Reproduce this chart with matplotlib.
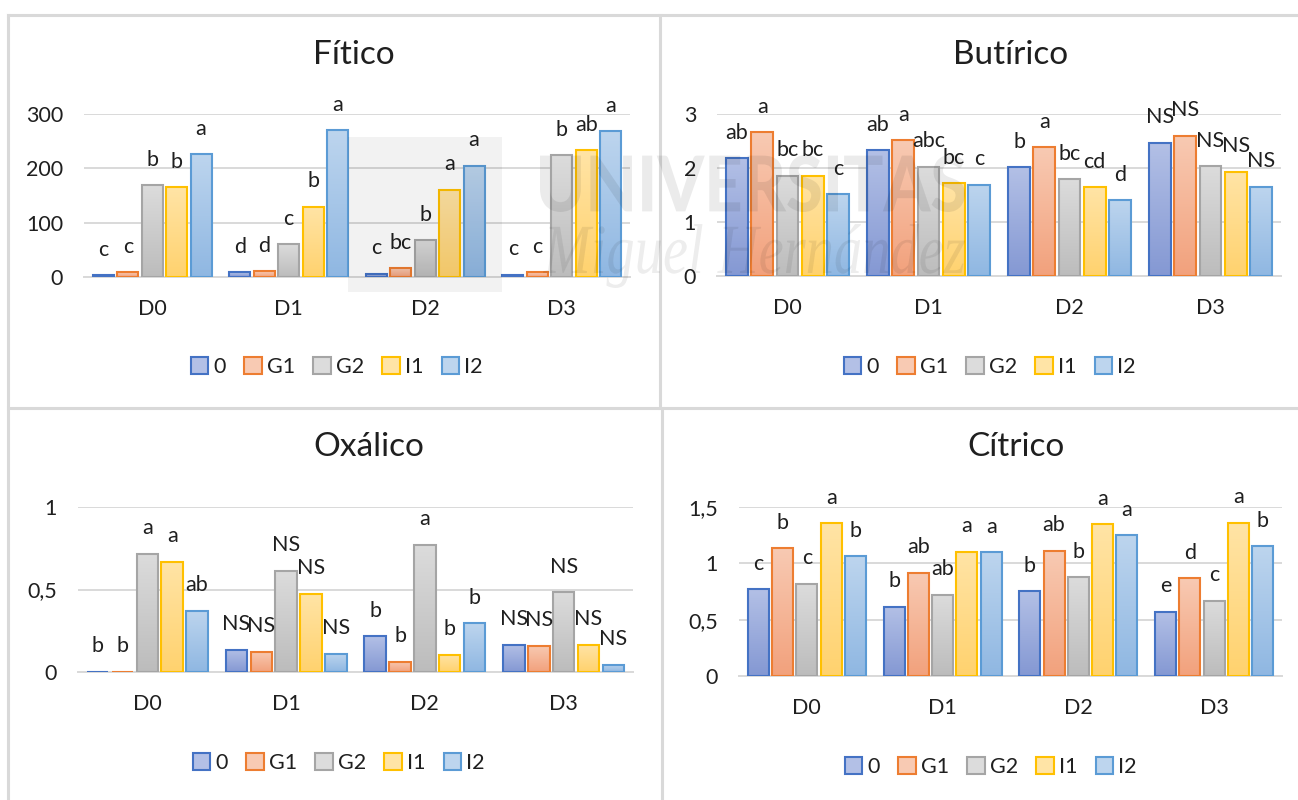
#Organic acids - 2x2 bar chart panels
# -*- coding: utf-8 -*-

import numpy as np
import matplotlib
matplotlib.use('Agg')
import matplotlib.pyplot as plt
from matplotlib.colors import LinearSegmentedColormap
from matplotlib.patches import Patch, PathPatch, Rectangle
from matplotlib.textpath import TextPath
from matplotlib.font_manager import FontProperties
from matplotlib.transforms import Affine2D
from matplotlib.lines import Line2D
from matplotlib.ticker import FuncFormatter

W, H = 1298, 800

#categories and series
dias = ['D0', 'D1', 'D2', 'D3']
series = ['0', 'G1', 'G2', 'I1', 'I2']

#Fítico
fitico_0 = [3, 9, 6, 4]
fitico_g1 = [9, 11, 16, 9]
fitico_g2 = [169, 60, 68, 224]
fitico_i1 = [165, 129, 161, 233]
fitico_i2 = [226, 270, 205, 268]
fitico_let_0 = ['c', 'd', 'c', 'c']
fitico_let_g1 = ['c', 'd', 'bc', 'c']
fitico_let_g2 = ['b', 'c', 'b', 'b']
fitico_let_i1 = ['b', 'b', 'a', 'ab']
fitico_let_i2 = ['a', 'a', 'a', 'a']

#Butírico
butirico_0 = [2.18, 2.33, 2.01, 2.47]
butirico_g1 = [2.66, 2.51, 2.38, 2.60]
butirico_g2 = [1.86, 2.02, 1.79, 2.03]
butirico_i1 = [1.86, 1.72, 1.64, 1.93]
butirico_i2 = [1.51, 1.69, 1.40, 1.65]
butirico_let_0 = ['ab', 'ab', 'b', 'NS']
butirico_let_g1 = ['a', 'a', 'a', 'NS']
butirico_let_g2 = ['bc', 'abc', 'bc', 'NS']
butirico_let_i1 = ['bc', 'bc', 'cd', 'NS']
butirico_let_i2 = ['c', 'c', 'd', 'NS']

#Oxálico
oxalico_0 = [0.003, 0.134, 0.217, 0.164]
oxalico_g1 = [0.003, 0.122, 0.061, 0.160]
oxalico_g2 = [0.716, 0.615, 0.771, 0.483]
oxalico_i1 = [0.669, 0.475, 0.105, 0.164]
oxalico_i2 = [0.371, 0.110, 0.294, 0.045]
oxalico_let_0 = ['b', 'NS', 'b', 'NS']
oxalico_let_g1 = ['b', 'NS', 'b', 'NS']
oxalico_let_g2 = ['a', 'NS', 'a', 'NS']
oxalico_let_i1 = ['a', 'NS', 'b', 'NS']
oxalico_let_i2 = ['ab', 'NS', 'b', 'NS']

#Cítrico
citrico_0 = [0.771, 0.614, 0.753, 0.572]
citrico_g1 = [1.135, 0.916, 1.112, 0.866]
citrico_g2 = [0.818, 0.720, 0.875, 0.667]
citrico_i1 = [1.358, 1.103, 1.349, 1.361]
citrico_i2 = [1.064, 1.097, 1.248, 1.150]
citrico_let_0 = ['c', 'b', 'b', 'e']
citrico_let_g1 = ['b', 'ab', 'ab', 'd']
citrico_let_g2 = ['c', 'ab', 'b', 'c']
citrico_let_i1 = ['a', 'a', 'a', 'a']
citrico_let_i2 = ['b', 'a', 'a', 'b']

#edge colour, gradient bottom, gradient top
edges = ['#4472C4', '#ED7D31', '#A5A5A5', '#FFC000', '#5B9BD5']
grad_bottom = ['#8498d3', '#f2a17c', '#bcbcbc', '#ffd26e', '#8fb7e2']
grad_top = ['#b3c0e6', '#f8cab3', '#dcdcdc', '#ffe4a6', '#bdd5ee']
grid_col = '#d9d9d9'
txt_col = '#1f1f1f'
FS = 15.5

FONT = 'Lato'
plt.rcParams['font.family'] = [FONT, 'DejaVu Sans']


def px_axes(fig, left, right, top, bottom):
    """
    add axes from pixel box (top-left origin)
    """
    return fig.add_axes([left / W, 1 - bottom / H, (right - left) / W, (bottom - top) / H])


def comma(v, pos):
    return '{:g}'.format(v).replace('.', ',')


def draw_panel(ax, values, letters, ymax, yticks):
    """
    draw one grouped bar chart with gradient bars and letter labels
    """
    x = np.arange(len(dias))
    pitch = 0.179
    width = 0.155
    grad = np.linspace(0, 1, 256).reshape(-1, 1)
    for i, (vals, lets) in enumerate(zip(values, letters)):
        pos = x + (i - 2) * pitch
        bars = ax.bar(pos, vals, width, facecolor='none', edgecolor=edges[i],
                      linewidth=1.5, zorder=3)
        cmap = LinearSegmentedColormap.from_list('g%d' % i, [grad_bottom[i], grad_top[i]])
        for rect, v, lab in zip(bars, vals, lets):
            x0 = rect.get_x()
            im = ax.imshow(grad, extent=(x0, x0 + width, 0, v), origin='lower',
                           aspect='auto', cmap=cmap, zorder=2, interpolation='bilinear')
            im.set_clip_path(rect)
            ax.annotate(lab, (x0 + width / 2, v), xytext=(0, 14), textcoords='offset points',
                        ha='center', va='baseline', fontsize=FS, color=txt_col,
                        annotation_clip=False, zorder=5)
    ax.set_xlim(-0.5, len(dias) - 0.5)
    ax.set_ylim(0, ymax)
    ax.set_yticks(yticks)
    ax.yaxis.set_major_formatter(FuncFormatter(comma))
    ax.set_xticks(x)
    ax.set_xticklabels(dias)
    ax.grid(axis='y', color=grid_col, linewidth=1.4, zorder=0)
    ax.set_axisbelow(True)
    for s in ['top', 'right', 'left']:
        ax.spines[s].set_visible(False)
    ax.spines['bottom'].set_color(grid_col)
    ax.spines['bottom'].set_linewidth(1.4)
    ax.spines['bottom'].set_zorder(1)
    ax.tick_params(axis='x', length=0, pad=16, labelsize=FS, labelcolor=txt_col)
    ax.tick_params(axis='y', length=0, pad=15, labelsize=FS, labelcolor=txt_col)
    ax.set_facecolor('none')


def add_legend(fig, cx, cy):
    handles = [Patch(facecolor=grad_top[i], edgecolor=edges[i], linewidth=1.5)
               for i in range(len(series))]
    fig.legend(handles, series, loc='center', bbox_to_anchor=(cx / W, 1 - cy / H),
               ncol=5, frameon=False, fontsize=FS, handlelength=0.8, handleheight=0.8,
               handletextpad=0.25, columnspacing=0.85, labelcolor=txt_col)


def stamp(fig, s, fp, box, alpha):
    """
    watermark text stretched into a pixel box (left, top, right, bottom)
    """
    tp = TextPath((0, 0), s, size=100, prop=fp)
    ext = tp.get_extents()
    l, t, r, b = box
    sx = (r - l) / ext.width / W
    sy = (b - t) / ext.height / H
    tr = Affine2D().translate(-ext.x0, -ext.y0).scale(sx, sy).translate(l / W, 1 - b / H)
    fig.add_artist(PathPatch(tr.transform_path(tp), transform=fig.transFigure,
                             facecolor='black', edgecolor='none', alpha=alpha, zorder=10))


def main():
    fig = plt.figure(figsize=(W / 100, H / 100), dpi=100)
    fig.patch.set_facecolor('white')

    #panel borders
    for xs, ys in [((8, W), (15, 15)), ((8, 8), (15, H)), ((660, 660), (15, 408)),
                   ((8, W), (408, 408)), ((662, 662), (408, H))]:
        fig.add_artist(Line2D([v / W for v in xs], [1 - v / H for v in ys],
                              color=grid_col, linewidth=2.2, transform=fig.transFigure))

    ax1 = px_axes(fig, 84, 630, 114, 277)
    draw_panel(ax1, [fitico_0, fitico_g1, fitico_g2, fitico_i1, fitico_i2],
               [fitico_let_0, fitico_let_g1, fitico_let_g2, fitico_let_i1, fitico_let_i2],
               300, [0, 100, 200, 300])
    ax2 = px_axes(fig, 717, 1281, 114, 276)
    draw_panel(ax2, [butirico_0, butirico_g1, butirico_g2, butirico_i1, butirico_i2],
               [butirico_let_0, butirico_let_g1, butirico_let_g2, butirico_let_i1, butirico_let_i2],
               3, [0, 1, 2, 3])
    ax3 = px_axes(fig, 78, 633, 507, 672)
    draw_panel(ax3, [oxalico_0, oxalico_g1, oxalico_g2, oxalico_i1, oxalico_i2],
               [oxalico_let_0, oxalico_let_g1, oxalico_let_g2, oxalico_let_i1, oxalico_let_i2],
               1, [0, 0.5, 1])
    ax4 = px_axes(fig, 739, 1282, 507, 676)
    draw_panel(ax4, [citrico_0, citrico_g1, citrico_g2, citrico_i1, citrico_i2],
               [citrico_let_0, citrico_let_g1, citrico_let_g2, citrico_let_i1, citrico_let_i2],
               1.5, [0, 0.5, 1, 1.5])

    #titles
    for name, cx, cy in [('Fítico', 354, 55), ('Butírico', 1011, 55),
                         ('Oxálico', 369, 447), ('Cítrico', 1016, 447)]:
        fig.text(cx / W, 1 - cy / H, name, ha='center', va='center', fontsize=24, color=txt_col)

    #legends
    add_legend(fig, 337, 367)
    add_legend(fig, 990, 367)
    add_legend(fig, 339, 763)
    add_legend(fig, 991, 767)

    #watermark
    fig.add_artist(Rectangle((348 / W, 1 - 292 / H), 154 / W, 155 / H, transform=fig.transFigure,
                             facecolor='black', edgecolor='none', alpha=0.05, zorder=10))
    stamp(fig, 'UNIVERSITAS', FontProperties(family=FONT, weight='black'), (540, 155, 965, 212), 0.08)
    stamp(fig, 'Miguel Hernández', FontProperties(family='Liberation Serif', style='italic'),
          (543, 224, 965, 288), 0.07)

    fig.savefig('out.png', dpi=100, facecolor='white')


if __name__ == '__main__':
    main()
